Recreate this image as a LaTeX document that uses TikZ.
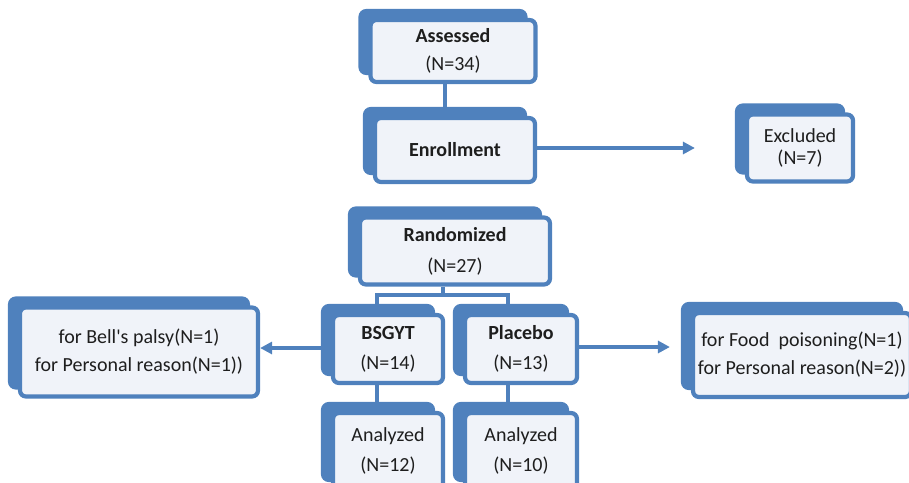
\documentclass[tikz,border=0pt]{standalone}
\usepackage{fontspec}
\setmainfont{Carlito}
\usetikzlibrary{shadows,arrows.meta}

\definecolor{boxblue}{HTML}{4F81BD}
\definecolor{boxfill}{HTML}{F0F3F9}
\definecolor{txt}{HTML}{1E1E1E}

\begin{document}
\begin{tikzpicture}[
  x=1pt, y=-1pt,
  font=\fontsize{20}{28}\selectfont,
  box/.style={draw=boxblue, line width=4.2pt, fill=boxfill, rounded corners=6pt,
    align=center, text=txt, inner sep=0pt,
    copy shadow={shadow xshift=-10pt, shadow yshift=9pt, fill=boxblue, draw=boxblue}},
  line/.style={draw=boxblue, line width=4.5pt},
  arr/.style={line, -{Triangle[length=12pt,width=12pt]}},
]
\useasboundingbox (0,0) rectangle (909,482);

%% ============ main column ============
\node[box, minimum width=165pt, minimum height=62pt] (assessed) at (453,51)
  {\textbf{Assessed}\\(N=34)};
\node[box, minimum width=160pt, minimum height=64pt] (enroll) at (455,150)
  {\textbf{Enrollment}};
\node[box, minimum width=190pt, minimum height=67pt] (rand) at (455,251)
  {\textbf{Randomized}\\[3pt](N=27)};
\node[box, minimum width=106pt, minimum height=67pt] (excl) at (800,148)
  {Excluded\\[-6pt](N=7)};

%% ============ arms ============
\node[box, minimum width=110pt, minimum height=68pt] (bsgyt) at (388,349)
  {\textbf{BSGYT}\\[2pt](N=14)};
\node[box, minimum width=112pt, minimum height=68pt] (placebo) at (521,349)
  {\textbf{Placebo}\\[2pt](N=13)};
\node[box, minimum width=110pt, minimum height=76pt] (an1) at (388,451)
  {Analyzed\\[2pt](N=12)};
\node[box, minimum width=112pt, minimum height=76pt] (an2) at (521,451)
  {Analyzed\\[2pt](N=10)};

%% ============ drop-outs ============
\node[box, minimum width=238pt, minimum height=89pt] (lbox) at (139,352)
  {for Bell\textquotesingle s palsy(N=1)\\for Personal reason(N=1))};
\node[box, minimum width=218pt, minimum height=84pt] (rbox) at (802,355)
  {for Food~~poisoning(N=1)\\for Personal reason(N=2))};

%% ============ flows ============
\coordinate (split) at (443,295);
\draw[line] ([xshift=-8pt]assessed.south) -- ([xshift=-10pt]enroll.north);
\draw[line] ([xshift=-12pt]rand.south) -- (split);
\draw[line] ([xshift=-11pt]bsgyt.north) |- (split) -| ([xshift=-13pt]placebo.north);
\draw[line] ([xshift=-11pt]bsgyt.south) -- ([xshift=-11pt]an1.north);
\draw[line] ([xshift=-13pt]placebo.south) -- ([xshift=-13pt]an2.north);
% exclusions
\draw[arr, shorten >=50pt] ([yshift=2pt]enroll.east) -- ([yshift=2pt]enroll.east -| excl.west);
\draw[arr] ([yshift=1pt]bsgyt.west) -- ([yshift=1pt]bsgyt.west -| lbox.east);
\draw[arr, shorten >=21pt] ([yshift=2pt]placebo.east) -- ([yshift=2pt]placebo.east -| rbox.west);

\end{tikzpicture}
\end{document}
